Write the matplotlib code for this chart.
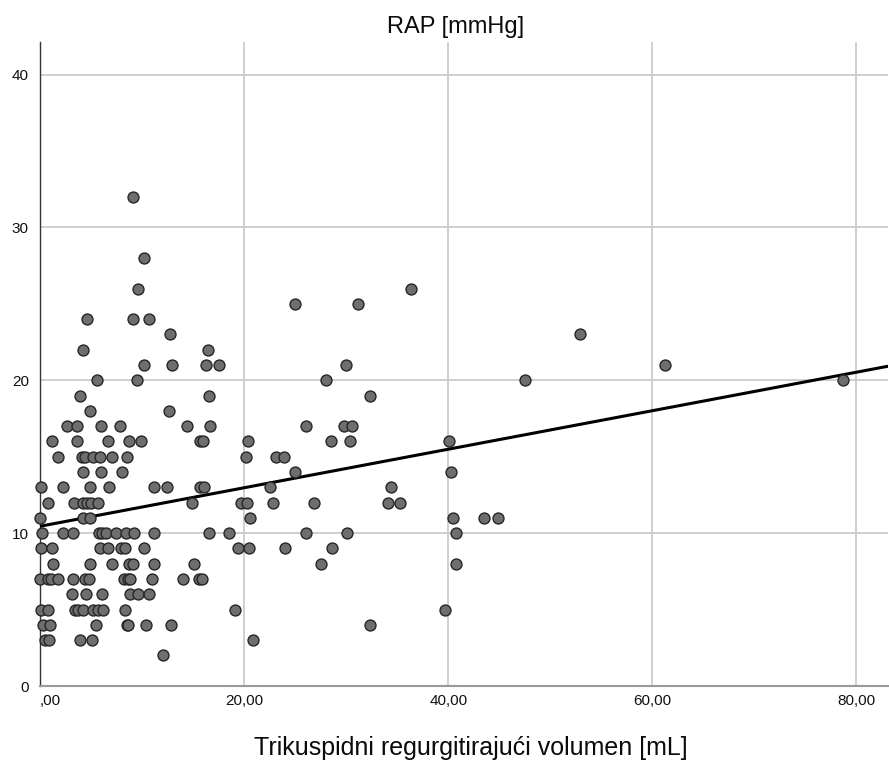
import matplotlib
matplotlib.use("Agg")
import matplotlib.pyplot as plt

plt.rcParams['font.family'] = ['Liberation Sans', 'DejaVu Sans']

# RAP [mmHg] value -> TR volumes [mL]
rap_levels = {
    32: [9.1],
    28: [10.2],
    26: [9.6, 36.4],
    25: [25.0, 31.2],
    24: [4.6, 9.1, 10.7],
    23: [12.7, 52.9],
    22: [4.2, 16.5],
    21: [10.2, 12.9, 16.3, 17.5, 30.0, 61.2],
    20: [5.6, 9.5, 28.0, 47.5, 78.7],
    19: [3.9, 16.6, 32.3],
    18: [4.9, 12.6],
    17: [2.6, 3.6, 5.95, 7.8, 14.4, 16.7, 26.1, 29.8, 30.6],
    16: [1.2, 3.6, 6.7, 8.7, 9.9, 15.7, 16.0, 20.4, 28.5, 30.4, 40.1],
    15: [1.8, 4.1, 4.4, 5.2, 5.9, 7.1, 8.5, 20.2, 23.1, 23.9],
    14: [4.2, 5.95, 8.0, 25.0, 40.3],
    13: [0.1, 2.3, 4.9, 6.8, 11.2, 12.4, 15.7, 16.1, 22.5, 34.4],
    12: [0.8, 3.3, 4.25, 4.6, 5.0, 5.7, 14.9, 19.7, 20.3, 22.8, 26.8, 34.1, 35.3],
    11: [0.0, 4.2, 4.9, 20.6, 40.5, 43.5, 44.9],
    10: [0.2, 2.3, 3.2, 5.8, 6.05, 6.5, 7.45, 8.4, 9.25, 11.2, 16.6, 18.5, 26.1, 30.1, 40.8],
    9: [0.1, 1.2, 5.9, 6.7, 7.9, 8.3, 10.2, 19.4, 20.5, 24.0, 28.6],
    8: [1.3, 4.9, 7.1, 8.7, 9.1, 11.2, 15.1, 27.5, 40.8],
    7: [0.0, 0.8, 1.05, 1.8, 3.2, 4.4, 4.8, 8.2, 8.6, 8.8, 11.0, 14.0, 15.6, 15.9],
    6: [3.1, 4.5, 6.05, 8.8, 9.6, 10.7],
    5: [0.1, 0.8, 3.4, 3.7, 4.25, 5.2, 5.7, 6.2, 8.3, 19.1, 39.7],
    4: [0.3, 1.0, 5.5, 8.5, 8.6, 10.4, 12.8, 32.3],
    3: [0.5, 0.9, 3.9, 5.1, 20.9],
    2: [12.1],
}

tr_volume = [x for y, xs in rap_levels.items() for x in xs]
rap = [y for y, xs in rap_levels.items() for _ in xs]

# fit line
fit_intercept = 10.45
fit_slope = 0.126

x_ticks = [0, 20, 40, 60, 80]
x_tick_labels = [",00", "20,00", "40,00", "60,00", "80,00"]
y_ticks = [0, 10, 20, 30, 40]

fig = plt.figure(figsize=(8.89, 7.67), dpi=100)
ax = fig.add_axes([0.045, 0.1056, 0.954, 0.839])

ax.set_xlim(0, 83.1)
ax.set_ylim(0, 42.1)

ax.grid(True, color='#cccccc', linewidth=1.3, zorder=0)
ax.set_axisbelow(True)

x_end = ax.get_xlim()[1]
ax.plot([0, x_end], [fit_intercept, fit_intercept + fit_slope * x_end],
        color='black', linewidth=2.2, zorder=3)

ax.scatter(tr_volume, rap, s=62, facecolor='#6e6e6e', edgecolor='#262626',
           linewidth=1.0, zorder=4, clip_on=False)

ax.set_xticks(x_ticks)
ax.set_xticklabels(x_tick_labels)
ax.set_yticks(y_ticks)
ax.tick_params(length=0, labelsize=11, colors='#111111')
ax.tick_params(axis='x', pad=6)
ax.tick_params(axis='y', pad=8)
# SPSS puts the ",00" label to the right of the origin
ax.get_xticklabels()[0].set_ha('left')

for s in ['top', 'right']:
    ax.spines[s].set_visible(False)
ax.spines['left'].set_color('#333333')
ax.spines['left'].set_linewidth(1.0)
ax.spines['bottom'].set_color('#9a9a9a')
ax.spines['bottom'].set_linewidth(1.5)

fig.text(0.512, 0.965, "RAP [mmHg]", ha='center', va='center', fontsize=17, color='#0a0a0a')
fig.text(0.530, 0.025, "Trikuspidni regurgitirajući volumen [mL]", ha='center', va='center',
         fontsize=18, color='#0a0a0a')

fig.savefig("out.png", dpi=100)
